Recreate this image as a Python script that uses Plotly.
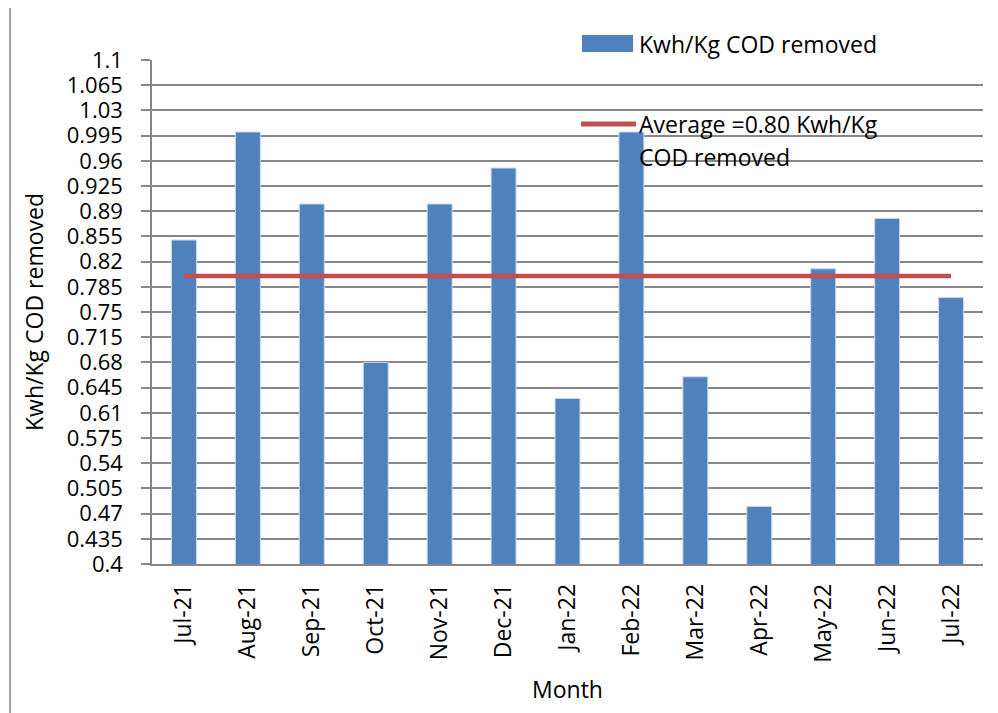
import plotly.graph_objects as go

months = ["Jul-21", "Aug-21", "Sep-21", "Oct-21", "Nov-21", "Dec-21", "Jan-22",
          "Feb-22", "Mar-22", "Apr-22", "May-22", "Jun-22", "Jul-22"]
kwh_per_kg_cod = [0.85, 1.00, 0.90, 0.68, 0.90, 0.95, 0.63,
                  1.00, 0.66, 0.48, 0.81, 0.88, 0.77]
average_value = 0.80
y_tick_labels = ["0.4", "0.435", "0.47", "0.505", "0.54", "0.575", "0.61", "0.645",
                 "0.68", "0.715", "0.75", "0.785", "0.82", "0.855", "0.89", "0.925",
                 "0.96", "0.995", "1.03", "1.065", "1.1"]
bar_name = "Kwh/Kg COD removed"
avg_line1 = "Average =0.80 Kwh/Kg"
avg_line2 = "COD removed"

FONT = "Open Sans"
GRID = "#878787"
BLUE = "#4F81BD"
RED = "#C0504D"

fig = go.Figure()
fig.add_trace(go.Bar(
    x=months, y=kwh_per_kg_cod, name=bar_name,
    marker=dict(color=BLUE, line=dict(color="#C9D7EA", width=1)),
    showlegend=False,
))
fig.add_trace(go.Scatter(
    x=months, y=[average_value] * len(months), mode="lines",
    name=avg_line1 + " " + avg_line2,
    line=dict(color=RED, width=4.5), showlegend=False,
))

# page has an 8px body margin: figure coords = reference coords - 8
OFF = 8
W, H = 998 - OFF, 713 - OFF
L, T = 152 - OFF, 60 - OFF
R = W - (983 - OFF)
B = H - (564 - OFF)
pw, ph = W - L - R, H - T - B


def px(x):
    return (x - OFF - L) / pw


def py(y):
    return (H - B - (y - OFF)) / ph


shapes = [
    # outer chart border (left & top visible)
    dict(type="rect", xref="paper", yref="paper",
         x0=px(10), x1=px(1010), y0=py(730), y1=py(7),
         line=dict(color=GRID, width=1.5), fillcolor="rgba(0,0,0,0)", layer="below"),
    # legend symbols
    dict(type="rect", xref="paper", yref="paper",
         x0=px(582), x1=px(633), y0=py(52), y1=py(35),
         line=dict(width=0), fillcolor=BLUE),
    dict(type="line", xref="paper", yref="paper",
         x0=px(581), x1=px(636), y0=py(124), y1=py(124),
         line=dict(color=RED, width=5)),
]

annotations = [
    dict(text=bar_name, xref="paper", yref="paper", x=px(637), y=py(44),
         xanchor="left", yanchor="middle", showarrow=False,
         font=dict(family=FONT, size=23, color="#000")),
    dict(text=avg_line1, xref="paper", yref="paper", x=px(637), y=py(124),
         xanchor="left", yanchor="middle", showarrow=False,
         font=dict(family=FONT, size=23, color="#000")),
    dict(text=avg_line2, xref="paper", yref="paper", x=px(637), y=py(157),
         xanchor="left", yanchor="middle", showarrow=False,
         font=dict(family=FONT, size=23, color="#000")),
]

fig.update_layout(
    width=W, height=H,
    margin=dict(l=L, r=R, t=T, b=B, autoexpand=False),
    paper_bgcolor="white", plot_bgcolor="white",
    font=dict(family=FONT, size=22, color="#000"),
    bargap=0.61,
    shapes=shapes, annotations=annotations,
    showlegend=False,
)
fig.update_yaxes(
    range=[0.4, 1.1],
    tickmode="array",
    tickvals=[float(t) for t in y_tick_labels],
    ticktext=y_tick_labels,
    tickfont=dict(size=22),
    showgrid=True, gridcolor=GRID, gridwidth=1.5,
    showline=True, linecolor=GRID, linewidth=1.5,
    ticks="outside", ticklen=9, tickcolor=GRID, tickwidth=1.5,
    ticklabelstandoff=14,
    zeroline=False,
    title=dict(text="Kwh/Kg COD removed", standoff=17, font=dict(size=23)),
    automargin=False,
)
fig.update_xaxes(
    tickangle=-90,
    tickfont=dict(size=23),
    showline=True, linecolor=GRID, linewidth=1.5,
    ticks="", showgrid=False,
    ticklabelstandoff=9,
    title=dict(text="Month", standoff=20, font=dict(size=23)),
    automargin=False,
)

fig.write_html("out.html")
